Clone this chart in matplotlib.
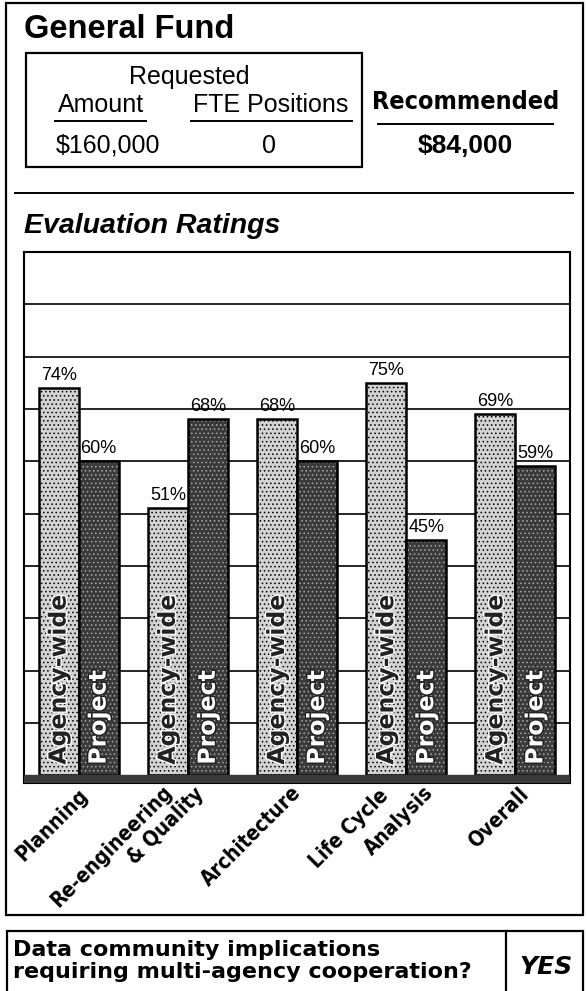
import matplotlib
matplotlib.use("Agg")
import matplotlib.pyplot as plt
import matplotlib.patheffects as pe
from matplotlib.patches import Rectangle
from matplotlib.lines import Line2D
import numpy as np

# ── data ──
categories = ["Planning", "Re-engineering\n& Quality", "Architecture",
              "Life Cycle\nAnalysis", "Overall"]
agency_wide = [74, 51, 68, 75, 69]
project = [60, 68, 60, 45, 59]
series_names = ["Agency-wide", "Project"]

requested_amount = "$160,000"
requested_fte = "0"
recommended = "$84,000"
multi_agency = "YES"

# ── layout helpers (pixel coords, origin top-left) ──
W, H = 587, 991
SANS = ["Liberation Sans", "DejaVu Sans"]
COND = dict(family="DejaVu Sans", fontstretch="condensed", fontweight="bold")

fig = plt.figure(figsize=(W / 100, H / 100), dpi=100)


def fx(x):
    return x / W


def fy(y):
    return 1 - y / H


def box(x0, y0, x1, y1, lw=1.6):
    fig.patches.append(Rectangle((fx(x0), fy(y1)), fx(x1) - fx(x0), fy(y0) - fy(y1),
                                 transform=fig.transFigure, fill=False,
                                 edgecolor="black", linewidth=lw))


def hline(x0, x1, y, lw=1.4):
    fig.lines.append(Line2D([fx(x0), fx(x1)], [fy(y), fy(y)],
                            transform=fig.transFigure, color="black", linewidth=lw))


def ftext(x, y, s, **kw):
    fig.text(fx(x), fy(y), s, va="baseline", **kw)


# outer frames
box(6, 3, 583, 915)
box(7, 931, 583, 1000)
fig.lines.append(Line2D([fx(506), fx(506)], [fy(931), 0], transform=fig.transFigure,
                        color="black", linewidth=1.6))

# header
ftext(24, 38, "General Fund", fontsize=23.5, fontweight="bold", family=SANS)
box(26, 53, 362, 167)
ftext(189, 84, "Requested", fontsize=18, ha="center", family=SANS)
ftext(101, 112, "Amount", fontsize=18, ha="center", family=SANS)
ftext(271, 112, "FTE Positions", fontsize=18, ha="center", family=SANS)
hline(55, 146, 121)
hline(191, 352, 121)
ftext(108, 153, requested_amount, fontsize=18, ha="center", family=SANS)
ftext(269, 153, requested_fte, fontsize=18, ha="center", family=SANS)
ftext(466, 109, "Recommended", fontsize=18, ha="center", **COND)
hline(378, 553, 124)
ftext(465, 153, recommended, fontsize=19, fontweight="bold", ha="center", family=SANS)
hline(15, 573, 193)

ftext(24, 233, "Evaluation Ratings", fontsize=20.5, fontweight="bold",
      style="italic", family=SANS)

# bottom question box
ftext(13, 956, "Data community implications", fontsize=16, fontweight="bold",
      family="DejaVu Sans")
ftext(13, 978, "requiring multi-agency cooperation?", fontsize=16, fontweight="bold",
      family="DejaVu Sans")
ftext(546, 974, multi_agency, fontsize=18, fontweight="bold", style="italic",
      ha="center", family="DejaVu Sans")

# ── chart ──
ax = fig.add_axes([fx(24), fy(783), fx(570) - fx(24), fy(252) - fy(783)])
x = np.arange(len(categories))
bw = 0.366

plt.rcParams["hatch.linewidth"] = 0.6
ax.bar(x - bw / 2, agency_wide, bw, color="#d2d2d2", edgecolor="black",
       linewidth=1.8, hatch="....", zorder=3)
ax.bar(x + bw / 2, project, bw, color="#3a3a3a", edgecolor="#a8a8a8",
       linewidth=0, hatch="....", zorder=3)
ax.bar(x + bw / 2, project, bw, fill=False, edgecolor="black",
       linewidth=1.8, zorder=4)

for xi, a, p in zip(x, agency_wide, project):
    ax.text(xi - bw / 2, a + 0.8, f"{a}%", ha="center", va="bottom",
            fontsize=13, family=SANS, zorder=5)
    ax.text(xi + bw / 2, p + 0.8, f"{p}%", ha="center", va="bottom",
            fontsize=13, family=SANS, zorder=5)
    ax.text(xi - bw / 2, 2, series_names[0], rotation=90, ha="center", va="bottom",
            fontsize=17, fontweight="bold", color="#222222", family="DejaVu Sans",
            zorder=5, path_effects=[pe.withStroke(linewidth=2, foreground="white")])
    ax.text(xi + bw / 2, 2, series_names[1], rotation=90, ha="center", va="bottom",
            fontsize=17, fontweight="bold", color="white", family="DejaVu Sans",
            zorder=5, path_effects=[pe.withStroke(linewidth=2, foreground="#222222")])

ax.set_xlim(-0.5, len(categories) - 0.5)
ax.set_ylim(-1.5, 100)
ax.set_yticks(range(10, 100, 10))
ax.set_xticks([])
ax.tick_params(axis="y", length=0, labelleft=False)
ax.grid(axis="y", color="black", linewidth=1.2, zorder=0)
ax.set_axisbelow(True)
ax.axhspan(-1.5, 0, color="#3a3a3a", zorder=6)
for s in ax.spines.values():
    s.set_linewidth(1.5)

# rotated category labels, one text per line (offsets in px from group centre at y=0)
label_offsets = [
    [(-27, 50)],
    [(-76, 71), (-22, 51)],
    [(-46, 61)],
    [(-57, 54), (-7, 46)],
    [(-17, 43)],
]
for xi, cat, offs in zip(x, categories, label_offsets):
    for line, (dx, dy) in zip(cat.split("\n"), offs):
        ax.annotate(line, xy=(xi, 0), xytext=(dx * 0.72, -dy * 0.72),
                    textcoords="offset points", rotation=45, ha="center",
                    va="center", rotation_mode="anchor", fontsize=15,
                    annotation_clip=False, **COND)

fig.savefig("out.png", dpi=100)
